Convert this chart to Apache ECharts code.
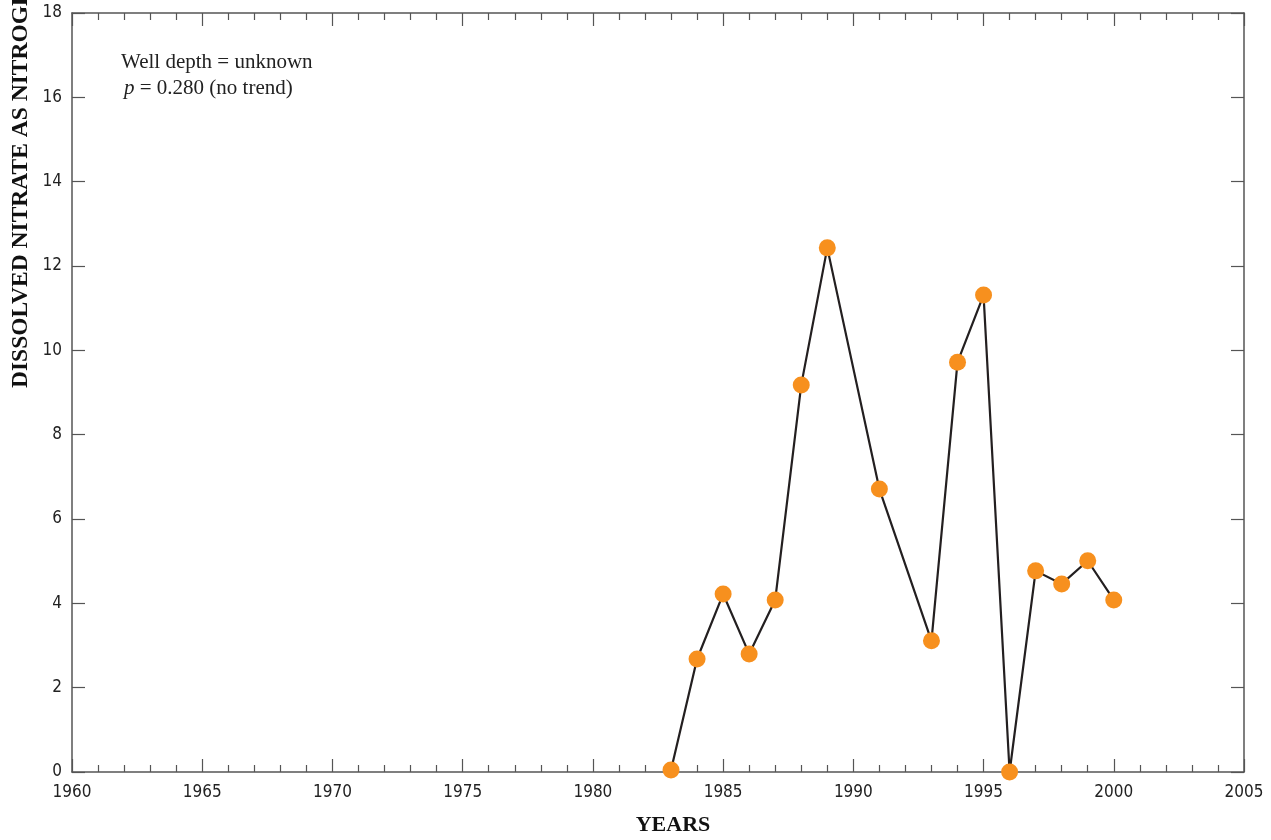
<!DOCTYPE html>
<html>
<head>
  <meta charset="UTF-8">
  <title>Dissolved nitrate</title>
  <script src="https://cdn.jsdelivr.net/npm/echarts@6/dist/echarts.min.js"></script>
  <style>
    html, body { margin: 0; padding: 0; background: #fff; }
  </style>
</head>
<body>
  <div id="chart" style="width:1271px; height:840px;"></div>
  <script>
    // sample years and nitrate (as N) values, mg/L
    var years   = [1983, 1984, 1985, 1986, 1987, 1988, 1989, 1991, 1993, 1994, 1995, 1996, 1997, 1998, 1999, 2000];
    var nitrate = [0.05, 2.68, 4.22, 2.80, 4.08, 9.18, 12.43, 6.71, 3.11, 9.72, 11.31, 0.0, 4.77, 4.46, 5.01, 4.08];

    var xMin = 1960, xMax = 2005, xStep = 5;
    var yMin = 0, yMax = 18, yStep = 2;

    var points = years.map(function (y, i) { return [y, nitrate[i]]; });

    var tickFont = "'Liberation Sans Narrow', 'DejaVu Sans Condensed', 'Liberation Sans', sans-serif";
    var serif = "'Liberation Serif', 'DejaVu Serif', serif";
    var axisGrey = '#555';

    var chart = echarts.init(document.getElementById('chart'), null, {renderer: 'canvas'});
    chart.setOption({
      animation: false,
      backgroundColor: '#fff',
      grid: {left: 72, right: 27, top: 13, bottom: 68},
      xAxis: [{
        type: 'value', min: xMin, max: xMax, interval: xStep,
        position: 'bottom',
        axisLine: {onZero: false, lineStyle: {color: axisGrey, width: 1.5}},
        axisTick: {inside: true, length: 13, lineStyle: {color: axisGrey, width: 1.2}},
        minorTick: {show: true, splitNumber: 5, length: 7, lineStyle: {color: axisGrey, width: 1.2}},
        axisLabel: {fontFamily: tickFont, fontSize: 17, color: '#222', margin: 12,
                    showMinLabel: true, showMaxLabel: true,
                    formatter: function (v) { return String(v); }},
        splitLine: {show: false}
      }, {
        type: 'value', min: xMin, max: xMax, interval: xStep,
        position: 'top',
        axisLine: {onZero: false, lineStyle: {color: axisGrey, width: 1.5}},
        axisTick: {inside: true, length: 13, lineStyle: {color: axisGrey, width: 1.2}},
        minorTick: {show: true, splitNumber: 5, length: 7, lineStyle: {color: axisGrey, width: 1.2}},
        axisLabel: {show: false},
        splitLine: {show: false}
      }],
      yAxis: [{
        type: 'value', min: yMin, max: yMax, interval: yStep,
        position: 'left',
        axisLine: {show: true, onZero: false, lineStyle: {color: axisGrey, width: 1.5}},
        axisTick: {show: true, inside: true, length: 13, lineStyle: {color: axisGrey, width: 1.2}},
        axisLabel: {fontFamily: tickFont, fontSize: 17, color: '#222', margin: 10,
                    showMinLabel: true, showMaxLabel: true},
        splitLine: {show: false}
      }, {
        type: 'value', min: yMin, max: yMax, interval: yStep,
        position: 'right',
        axisLine: {show: true, onZero: false, lineStyle: {color: axisGrey, width: 1.5}},
        axisTick: {show: true, inside: true, length: 13, lineStyle: {color: axisGrey, width: 1.2}},
        axisLabel: {show: false},
        splitLine: {show: false}
      }],
      series: [{
        type: 'line',
        data: points,
        xAxisIndex: 0, yAxisIndex: 0,
        symbol: 'circle', symbolSize: 17,
        lineStyle: {color: '#231f20', width: 2.2},
        itemStyle: {color: '#f7901e', borderWidth: 0},
        clip: false,
        z: 3
      }],
      graphic: [{
        type: 'text',
        left: 121, top: 49,
        style: {
          text: 'Well depth = unknown\n{i|p} = 0.280 (no trend)',
          font: '21px ' + serif,
          fill: '#222',
          lineHeight: 26,
          rich: {i: {fontStyle: 'italic', fontFamily: serif, fontSize: 21, fill: '#222', padding: [0, 0, 0, 3]}}
        }
      }, {
        type: 'text',
        x: 21, y: 388,
        rotation: Math.PI / 2,
        style: {
          text: 'DISSOLVED NITRATE AS NITROGEN, IN MILLIGRAMS PER LITER',
          font: 'bold 23.5px ' + serif,
          fill: '#111',
          align: 'left',
          verticalAlign: 'middle'
        }
      }, {
        type: 'text',
        x: 673, y: 825,
        style: {
          text: 'YEARS',
          font: 'bold 22px ' + serif,
          fill: '#111',
          align: 'center',
          verticalAlign: 'middle'
        }
      }]
    });
  </script>
</body>
</html>
